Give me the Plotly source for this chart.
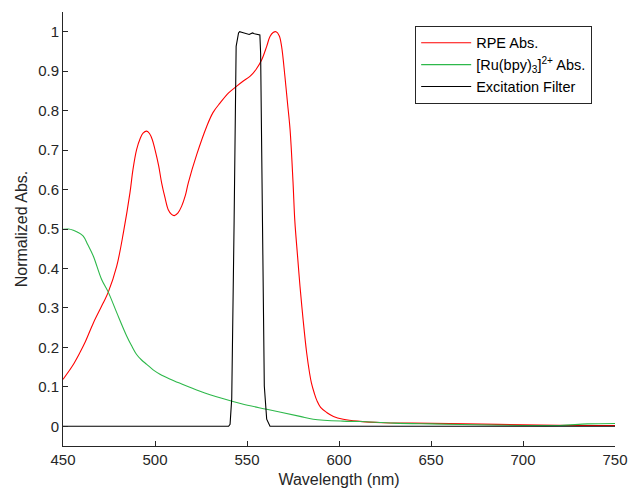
import plotly.graph_objects as go

# ---- data ----
rpe_nm = [450, 455, 459.2, 462, 466.5, 471.9, 474.6, 479.2, 482.8, 486.4, 488, 490, 492, 493.5, 495.5,
          497, 498.5, 500, 502, 503.6, 505.5, 507.2, 509, 510.5, 512.5, 514.5, 516.5, 518.1, 522.7,
          528.1, 531.5, 535.3, 540, 544.4, 548, 551.6, 555, 558, 560.7, 562.5, 564.2, 565.8, 567.5,
          568.8, 570.6, 572, 573.4, 575, 576, 577.5, 578.8, 580.5, 582.4, 584, 585, 586.5, 588, 590,
          593.3, 597, 602.3, 610, 624, 640, 669, 700, 730, 750]
rpe_abs = [0.119, 0.152, 0.187, 0.213, 0.262, 0.313, 0.340, 0.406, 0.490, 0.592, 0.65, 0.701, 0.730,
           0.743, 0.748, 0.742, 0.727, 0.701, 0.66, 0.617, 0.578, 0.549, 0.537, 0.534, 0.541, 0.558,
           0.585, 0.617, 0.689, 0.760, 0.795, 0.819, 0.845, 0.862, 0.875, 0.887, 0.905, 0.929, 0.963,
           0.988, 0.998, 1.0, 0.99, 0.963, 0.887, 0.82, 0.752, 0.62, 0.52, 0.43, 0.355, 0.27, 0.187,
           0.135, 0.11, 0.085, 0.065, 0.048, 0.035, 0.025, 0.018, 0.013, 0.009, 0.008, 0.006, 0.004,
           0.002, 0.002]

ru_nm = [450, 453, 455.6, 458, 461, 463.5, 466.5, 471, 474.6, 479.2, 484.6, 487.3, 490, 492.7, 495.5,
         499, 502.7, 508, 513.6, 524.5, 536.3, 547, 560.7, 578.8, 586, 602, 611.4, 630, 650, 675,
         700, 720, 735, 750]
ru_abs = [0.499, 0.5, 0.497, 0.492, 0.482, 0.46, 0.431, 0.372, 0.340, 0.288, 0.229, 0.204, 0.182,
          0.168, 0.157, 0.143, 0.132, 0.12, 0.109, 0.089, 0.071, 0.057, 0.043, 0.025, 0.018, 0.013,
          0.012, 0.008, 0.006, 0.004, 0.002, 0.002, 0.006, 0.007]

filt_nm = [450, 540, 540.8, 541.7, 543, 544.1, 545.4, 546, 547.5, 548.5, 550, 551.2, 552, 553, 554,
           554.8, 556, 557, 557.4, 558.5, 559.4, 560.7, 562.5, 750]
filt_val = [0, 0, 0.005, 0.07, 0.52, 0.963, 0.997, 1.0, 0.998, 0.997, 0.996, 0.993, 0.995, 0.997,
            0.995, 0.994, 0.993, 0.992, 0.946, 0.524, 0.102, 0.018, 0, 0]

x_ticks = [450, 500, 550, 600, 650, 700, 750]
y_ticks = [0, 0.1, 0.2, 0.3, 0.4, 0.5, 0.6, 0.7, 0.8, 0.9, 1]
y_ticktext = ["0", "0.1", "0.2", "0.3", "0.4", "0.5", "0.6", "0.7", "0.8", "0.9", "1"]

names = ["RPE Abs.", "[Ru(bpy)<sub>3</sub>]<sup>2+</sup> Abs.", "Excitation Filter"]

# ---- figure ----
AX = "#262626"
FONT = "Liberation Sans, Arial, sans-serif"

fig = go.Figure()
fig.add_trace(go.Scatter(x=rpe_nm, y=rpe_abs, mode="lines", name=names[0],
                         line=dict(color="#ff0000", width=1.1, shape="spline", smoothing=1.0)))
fig.add_trace(go.Scatter(x=ru_nm, y=ru_abs, mode="lines", name=names[1],
                         line=dict(color="#2db84a", width=1.1, shape="spline", smoothing=1.0)))
fig.add_trace(go.Scatter(x=filt_nm, y=filt_val, mode="lines", name=names[2],
                         line=dict(color="#000000", width=1.1)))

fig.update_layout(
    width=631, height=498,
    margin=dict(l=63, r=16, t=12, b=52),
    paper_bgcolor="white", plot_bgcolor="white",
    font=dict(family=FONT, color=AX, size=15),
    showlegend=True,
    legend=dict(x=0.638, y=0.968, xanchor="left", yanchor="top",
                bordercolor=AX, borderwidth=1, bgcolor="white", itemwidth=50,
                font=dict(size=14.5, color="#000000"), tracegroupgap=0),
    xaxis=dict(range=[450, 750], tickmode="array", tickvals=x_ticks, automargin=False,
               ticks="inside", ticklen=5, tickcolor=AX, showline=True, linecolor=AX, linewidth=1,
               showgrid=False, zeroline=False, tickfont=dict(size=15, color=AX),
               title=dict(text="Wavelength (nm)", font=dict(size=16, color=AX), standoff=6)),
    yaxis=dict(range=[-0.05, 1.05], tickmode="array", tickvals=y_ticks, ticktext=y_ticktext,
               automargin=False,
               ticks="inside", ticklen=5, tickcolor=AX, showline=True, linecolor=AX, linewidth=1,
               showgrid=False, zeroline=False, tickfont=dict(size=15, color=AX),
               title=dict(text="Normalized Abs.", font=dict(size=16, color=AX), standoff=6)),
)

fig.write_html("out.html")
